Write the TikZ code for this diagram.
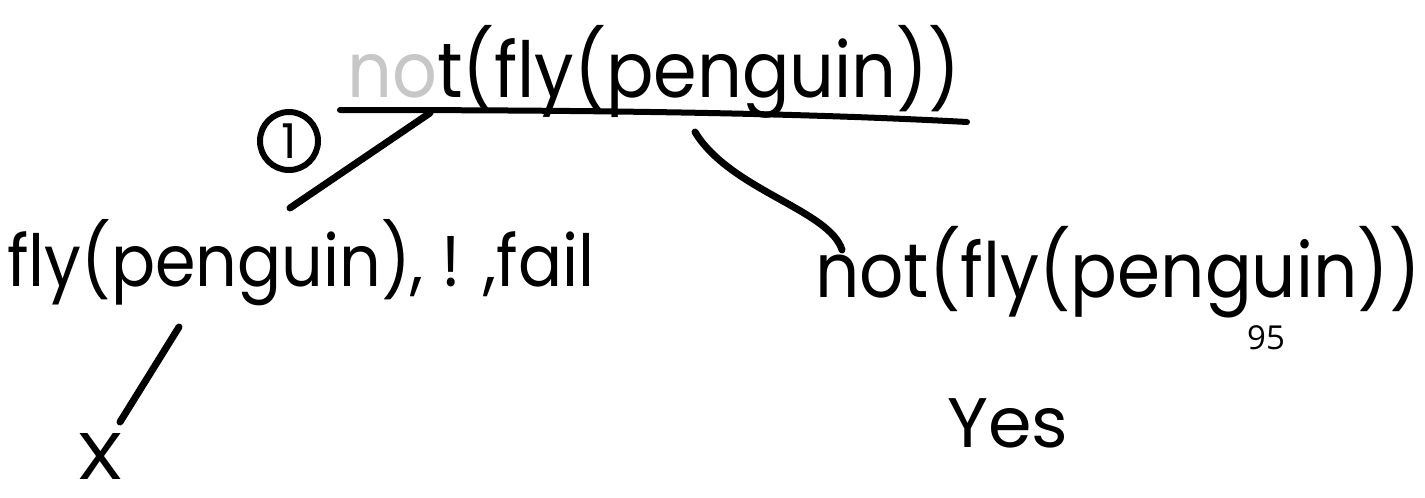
\documentclass[tikz,border=0pt]{standalone}
\usepackage{fontspec}
\usepackage{graphicx}
\newfontfamily\hand{Poppins}
\newfontfamily\pagefont{Open Sans}
\begin{document}
\begin{tikzpicture}[x=1pt,y=-1pt,
  hw/.style={inner sep=0pt, anchor=base west, font=\hand},
  stroke/.style={line width=7pt, line cap=round, black},
]
\useasboundingbox (0,0) rectangle (1425,498);
% root goal
\node[hw] (root) at (347,97) {\scalebox{1}[1.1]{\resizebox{613pt}{!}{\textcolor{black!22}{no}t(fly(penguin))}}};
\coordinate (ulL) at (340,110);
\coordinate (ulR) at (967,122);
\draw[line width=6pt, line cap=round] (ulL) .. controls (600,110) and (800,113) .. (ulR);
\node[draw, circle, line width=6pt, minimum size=58pt, inner sep=0pt,
      font=\hand\fontsize{48}{52}\selectfont] (one) at (289,141) {1};
% left branch
\coordinate (bl1) at (430,113);
\coordinate (bl2) at (290,208);
\draw[stroke] (bl1) -- (bl2);
\node[hw] (left) at (7,286) {\scalebox{1}[1.1]{\resizebox{587pt}{!}{fly(penguin), ! ,fail}}};
\coordinate (ll1) at (179,327);
\coordinate (ll2) at (120,422);
\draw[stroke] (ll1) -- (ll2);
\node[hw] (fail) at (76,479) {\resizebox*{48pt}{46pt}{X}};
% right branch
\coordinate (br1) at (695,132);
\coordinate (br2) at (842,250);
\draw[stroke] (br1) .. controls (730,190) and (830,210) .. (br2);
\node[hw] (right) at (815,297) {\scalebox{1}[1.1]{\resizebox{605pt}{!}{not(fly(penguin))}}};
\node[inner sep=0pt, anchor=base west, font=\pagefont\fontsize{33}{36}\selectfont] (page) at (1247,349) {95};
\node[hw] (yes) at (947,447) {\resizebox{121pt}{!}{Yes}};
\end{tikzpicture}
\end{document}
